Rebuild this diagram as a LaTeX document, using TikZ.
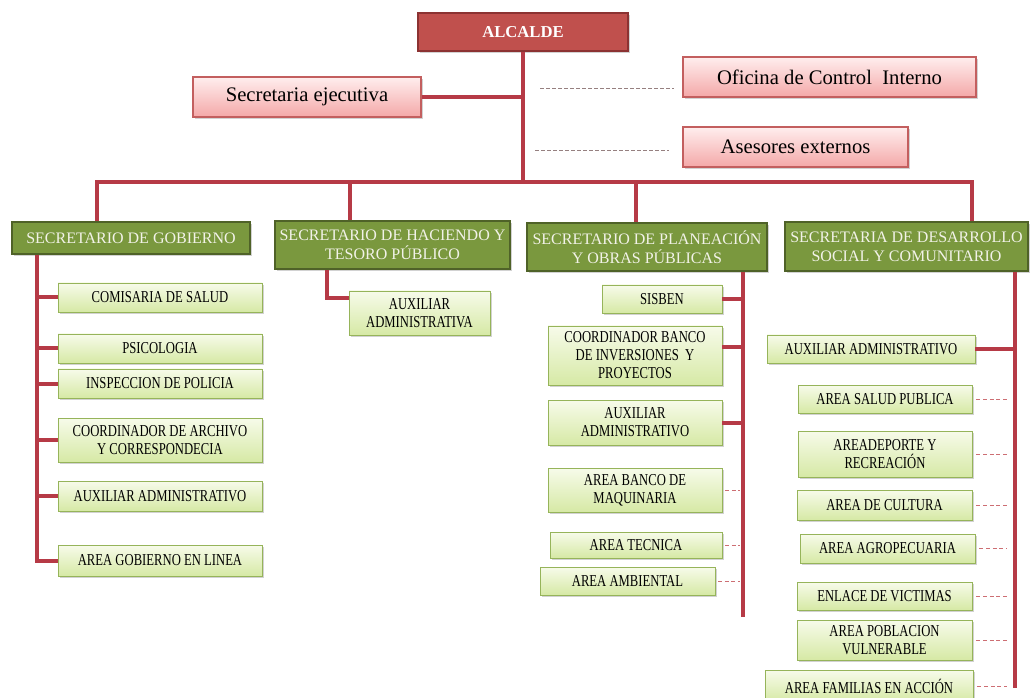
\documentclass[tikz,border=0pt]{standalone}
\usepackage{fontspec}
\setmainfont{Liberation Serif}
\newfontfamily\condf[FakeStretch=0.76]{Liberation Serif}
\usetikzlibrary{shadows}
\definecolor{lred}{RGB}{182,58,70}
\definecolor{dred}{RGB}{205,110,115}
\definecolor{dgray}{RGB}{150,128,128}
\definecolor{alcfill}{RGB}{192,80,77}
\definecolor{alcborder}{RGB}{140,50,50}
\definecolor{pinktop}{RGB}{255,238,238}
\definecolor{pinkbot}{RGB}{244,168,168}
\definecolor{pinkborder}{RGB}{195,95,95}
\definecolor{hdrfill}{RGB}{122,152,62}
\definecolor{hdrborder}{RGB}{79,98,40}
\definecolor{hdrtext}{RGB}{242,242,232}
\definecolor{subtop}{RGB}{247,251,234}
\definecolor{subbot}{RGB}{214,233,165}
\definecolor{subborder}{RGB}{150,180,90}
\tikzset{
  base/.style={draw, rectangle, inner sep=1pt, align=center,
    drop shadow={shadow xshift=1.3pt, shadow yshift=-1.3pt, opacity=.35}},
  wh/.style 2 args={minimum width=#1*0.75pt, minimum height=#2*0.75pt},
  alcbox/.style={base, draw=alcborder, line width=1pt, fill=alcfill, text=white,
    font=\bfseries\fontsize{12.5}{14}\selectfont},
  pinkbox/.style={base, draw=pinkborder, line width=0.8pt, top color=pinktop, bottom color=pinkbot,
    font=\fontsize{15.5}{18}\selectfont},
  hdr/.style={base, draw=hdrborder, line width=1.1pt, fill=hdrfill, text=hdrtext,
    font=\fontsize{12}{14}\selectfont},
  sub/.style={base, draw=subborder, line width=0.7pt, top color=subtop, bottom color=subbot,
    font=\condf\fontsize{12.5}{13.5}\selectfont},
  link/.style={draw=lred, line width=3pt},
  dlink/.style={draw=dred, line width=0.7pt, dash pattern=on 3pt off 2pt},
  glink/.style={draw=dgray, line width=0.6pt, dash pattern=on 3pt off 1.5pt}
}
\begin{document}
\begin{tikzpicture}[x=0.75pt,y=-0.75pt]
\fill[white] (0,0) rectangle (1031,698);
\useasboundingbox (0,0) rectangle (1031,698);

% top level
\node[alcbox, wh={210}{38}] (alc) at (523,32) {ALCALDE};
\node[pinkbox, wh={228}{40}] (sec) at (307,97) {Secretaria ejecutiva};
\node[pinkbox, wh={293}{40}] (ofi) at (829.5,77) {Oficina de Control\ \ Interno};
\node[pinkbox, wh={225}{40}] (ase) at (795.5,147) {Asesores externos};

% headers
\node[hdr, wh={238}{32}] (gob) at (131,238) {SECRETARIO DE GOBIERNO};
\node[hdr, wh={235}{48}] (hac) at (392.5,245) {SECRETARIO DE HACIENDO Y\\ TESORO PÚBLICO};
\node[hdr, wh={240}{48}] (pla) at (647,247) {SECRETARIO DE PLANEACIÓN\\ Y OBRAS PÚBLICAS};
\node[hdr, wh={243}{49}] (des) at (906.5,246.5) {SECRETARIA DE DESARROLLO\\ SOCIAL Y COMUNITARIO};

% Gobierno
\node[sub, wh={204}{29}] (g1) at (160,297.5) {COMISARIA DE SALUD};
\node[sub, wh={204}{29}] (g2) at (160,348.5) {PSICOLOGIA};
\node[sub, wh={204}{29}] (g3) at (160,383.5) {INSPECCION DE POLICIA};
\node[sub, wh={204}{44}] (g4) at (160,440) {COORDINADOR DE ARCHIVO\\ Y CORRESPONDECIA};
\node[sub, wh={204}{30}] (g5) at (160,496) {AUXILIAR ADMINISTRATIVO};
\node[sub, wh={204}{31}] (g6) at (160,560.5) {AREA GOBIERNO EN LINEA};

% Hacienda
\node[sub, wh={141}{44}] (h1) at (419.5,313) {AUXILIAR\\ ADMINISTRATIVA};

% Planeacion
\node[sub, wh={120}{28}] (p1) at (662,299) {SISBEN};
\node[sub, wh={174}{59}] (p2) at (635,355.5) {COORDINADOR BANCO\\ DE INVERSIONES\ \ Y\\ PROYECTOS};
\node[sub, wh={174}{45}] (p3) at (635,422.5) {AUXILIAR\\ ADMINISTRATIVO};
\node[sub, wh={174}{44}] (p4) at (635,490) {AREA BANCO DE\\ MAQUINARIA};
\node[sub, wh={172}{26}] (p5) at (636,545) {AREA TECNICA};
\node[sub, wh={175}{28}] (p6) at (627.5,581) {AREA AMBIENTAL};

% Desarrollo
\node[sub, wh={208}{28}] (d1) at (871,349) {AUXILIAR ADMINISTRATIVO};
\node[sub, wh={174}{28}] (d2) at (885,399) {AREA SALUD PUBLICA};
\node[sub, wh={174}{46}] (d3) at (885,454) {AREADEPORTE Y\\ RECREACIÓN};
\node[sub, wh={175}{30}] (d4) at (884.5,505) {AREA DE CULTURA};
\node[sub, wh={175}{29}] (d5) at (887.5,548.5) {AREA AGROPECUARIA};
\node[sub, wh={175}{28}] (d6) at (884.5,596) {ENLACE DE VICTIMAS};
\node[sub, wh={175}{40}] (d7) at (884.5,640) {AREA POBLACION\\ VULNERABLE};
\node[sub, wh={208}{32}] (d8) at (869,686) {AREA FAMILIAS EN ACCIÓN};

% coordinates
\coordinate (bG) at (97,182);
\coordinate (bH) at (350,182);
\coordinate (bP) at (636,182);
\coordinate (bD) at (972,182);
\coordinate (gx) at (37,0);
\coordinate (gend) at (37,560.5);
\coordinate (hx) at (327,298);
\coordinate (px) at (743,0);
\coordinate (pend) at (743,617);
\coordinate (dx) at (1015,0);
\coordinate (dend) at (1015,688);
\coordinate (o1) at (540,88);
\coordinate (o2) at (535,150);
\coordinate (p2c) at ([yshift=6pt]p2.east);

% main connectors
\draw[link] (alc.south) -- (alc.south |- bG);
\draw[link] (sec.east) -- (sec.east -| alc.south);
\draw[link] (bG |- gob.north) -- (bG) -- (bD) -- (bD |- des.north);
\draw[link] (bH) -- (bH |- hac.north);
\draw[link] (bP) -- (bP |- pla.north);
\draw[glink, shorten >=6pt] (o1) -- (o1 -| ofi.west);
\draw[glink, shorten >=10pt] (o2) -- (o2 -| ase.west);

% Gobierno
\draw[link] (gx |- gob.south) -- (gend) -- (g6.west);
\foreach \n in {g1,g2,g3,g4,g5} \draw[link] (gx |- \n.west) -- (\n.west);

% Hacienda
\draw[link] (hx |- hac.south) -- (hx) -- (hx -| h1.west);

% Planeacion
\draw[link] (px |- pla.south) -- (pend);
\draw[link] (p1.east) -- (p1.east -| px);
\draw[link] (p2c) -- (p2c -| px);
\draw[link] (p3.east) -- (p3.east -| px);
\foreach \n in {p4,p5,p6} \draw[dlink, shorten <=2pt, shorten >=2pt] (\n.east) -- (\n.east -| px);

% Desarrollo
\draw[link] (dx |- des.south) -- (dend);
\draw[link] (d1.east) -- (d1.east -| dx);
\foreach \n in {d2,d3,d4,d5,d6,d7,d8} \draw[dlink, shorten <=3pt, shorten >=6pt] (\n.east) -- (\n.east -| dx);
\end{tikzpicture}
\end{document}
